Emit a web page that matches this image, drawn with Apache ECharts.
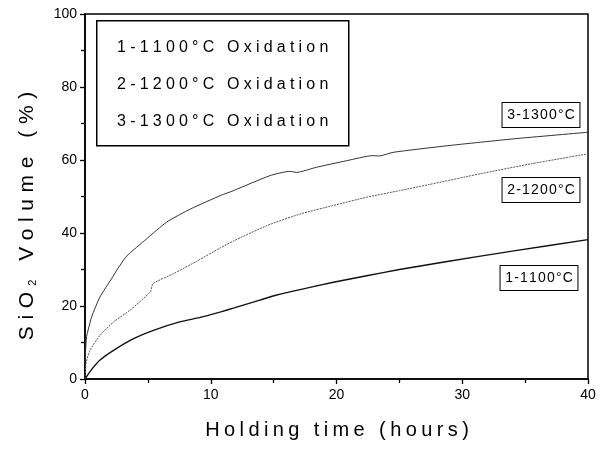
<!DOCTYPE html>
<html>
<head>
<meta charset="utf-8">
<script src="https://cdn.jsdelivr.net/npm/echarts@6/dist/echarts.min.js"></script>
<style>
  html, body { margin: 0; padding: 0; background: #fff; }
  #chart { width: 600px; height: 449px; }
</style>
</head>
<body>
<div id="chart"></div>
<script>
// Holding time (hours) and SiO2 volume (%) for each oxidation temperature
const hours1100 = [0, 0.5, 1.2, 2.3, 3.9, 5.5, 7.6, 9.1, 10.8, 11.8, 13.9, 15.25, 17.1, 19.75, 22.4, 25, 28.8, 34.1, 40];
const vol1100   = [0, 2.5, 5.2, 7.9, 11.1, 13.4, 15.7, 16.8, 18.4, 19.4, 21.6, 23.0, 24.5, 26.5, 28.3, 30.0, 32.2, 35.1, 38.2];

const hours1200 = [0, 0.08, 0.4, 1.2, 2.3, 3.6, 5.2, 5.4, 7.06, 8.9, 10.8, 11.8, 14.45, 17.1, 19.7, 22.4, 25, 27.4, 31.4, 35.4, 40];
const vol1200   = [0, 4.3, 7.9, 12, 15.7, 18.9, 23.9, 26.1, 28.9, 32.3, 36.0, 37.8, 42.0, 45.2, 47.5, 49.8, 51.6, 53.3, 56.2, 58.9, 61.7];

const hours1300 = [0, 0.05, 0.13, 0.53, 1.19, 2.1, 2.6, 3.3, 4.9, 6.5, 8.4, 10.8, 11.8, 14.7, 16.3, 16.8, 18.4, 20.8, 22.9, 23.4, 24.5, 28.8, 34.1, 40];
const vol1300   = [4, 8, 11.6, 17, 22.5, 27.4, 30.2, 33.6, 38.4, 43, 46.6, 50.3, 51.6, 55.7, 56.9, 56.6, 58.0, 59.8, 61.2, 61.1, 62.1, 63.9, 65.8, 67.6];

const legendLines = ['1-1100°C Oxidation', '2-1200°C Oxidation', '3-1300°C Oxidation'];
const curveTags = ['1-1100°C', '2-1200°C', '3-1300°C'];
const xTitle = 'Holding time (hours)';

const FONT = 'Arial, "Liberation Sans", Helvetica, sans-serif';

function pairs(xs, ys) { return xs.map((x, i) => [x, ys[i]]); }

// wrap each character in its own rich token so it gets padded (letter spacing)
function spaced(str, style) {
  return str.split('').map(ch => '{' + style + '|' + ch + '}').join('');
}

const chart = echarts.init(document.getElementById('chart'), null, { renderer: 'canvas' });

const grid = { left: 85, right: 12, top: 14, bottom: 70 };

const axisCommon = {
  axisLine: { onZero: false, lineStyle: { color: '#000', width: 1.6 } },
  axisTick: { show: true, inside: false, length: 5, lineStyle: { color: '#000', width: 1.3 } },
  minorTick: { show: true, splitNumber: 2, length: 4, lineStyle: { color: '#000', width: 1.3 } },
  splitLine: { show: false },
  axisLabel: { color: '#000', fontSize: 14, fontFamily: FONT }
};

chart.setOption({
  animation: false,
  backgroundColor: '#fff',
  grid: Object.assign({ show: true, borderColor: '#000', borderWidth: 1.5, backgroundColor: 'transparent' }, grid),
  xAxis: Object.assign({}, axisCommon, {
    type: 'value', min: 0, max: 40, interval: 10,
    axisLabel: Object.assign({}, axisCommon.axisLabel, { margin: 9 })
  }),
  yAxis: Object.assign({}, axisCommon, {
    type: 'value', min: 0, max: 100, interval: 20,
    axisLabel: Object.assign({}, axisCommon.axisLabel, { margin: 8 })
  }),
  series: [
    {
      name: '1-1100°C', type: 'line', data: pairs(hours1100, vol1100),
      showSymbol: false, smooth: 0.2,
      lineStyle: { color: '#111', width: 1.4 }
    },
    {
      name: '2-1200°C', type: 'line', data: pairs(hours1200, vol1200),
      showSymbol: false, smooth: 0.2,
      lineStyle: { color: '#555', width: 1, type: [2, 1] }
    },
    {
      name: '3-1300°C', type: 'line', data: pairs(hours1300, vol1300),
      showSymbol: false, smooth: 0.2,
      lineStyle: { color: '#333', width: 1 }
    }
  ],
  graphic: [
    // legend box
    {
      type: 'rect', left: 96, top: 20, z: 10,
      shape: { width: 252, height: 125 },
      style: { fill: '#fff', stroke: '#000', lineWidth: 1.5 }
    }
  ].concat(legendLines.map((t, i) => ({
    type: 'text', x: 115, y: 48 + i * 37, z: 11,
    style: {
      text: spaced(t, 'c'),
      align: 'left', verticalAlign: 'middle',
      rich: { c: { fontSize: 16, fontFamily: FONT, fill: '#000', padding: [0, 2.1, 0, 2.1] } }
    }
  }))).concat([
    // curve tags at the right edge
    { cx: 541, cy: 115, t: curveTags[2] },
    { cx: 541, cy: 190, t: curveTags[1] },
    { cx: 539, cy: 278, t: curveTags[0] }
  ].map(d => ({
    type: 'text', x: d.cx, y: d.cy, z: 11,
    style: {
      text: spaced(d.t, 't'),
      align: 'center', verticalAlign: 'middle',
      backgroundColor: '#fff', borderColor: '#000', borderWidth: 1,
      padding: [5, 4, 5, 4],
      rich: { t: { fontSize: 14, fontFamily: FONT, fill: '#000', padding: [0, 0.6, 0, 0.6] } }
    }
  }))).concat([
    // axis titles
    {
      type: 'text', x: 337, y: 430, z: 11,
      style: {
        text: spaced(xTitle, 'c'),
        align: 'center', verticalAlign: 'middle',
        rich: { c: { fontSize: 20, fontFamily: FONT, fill: '#000', padding: [0, 2.2, 0, 2.2] } }
      }
    },
    {
      type: 'text', x: 27, y: 216, rotation: Math.PI / 2, z: 11,
      style: {
        text: spaced('SiO', 'c') + '{s|2}' + spaced(' Volume (%)', 'c'),
        align: 'center', verticalAlign: 'middle',
        rich: {
          c: { fontSize: 21, fontFamily: FONT, fill: '#000', padding: [0, 3.3, 0, 3.3] },
          s: { fontSize: 11, fontFamily: FONT, fill: '#000', padding: [12, 3, 0, 3] }
        }
      }
    }
  ])
});
</script>
</body>
</html>
